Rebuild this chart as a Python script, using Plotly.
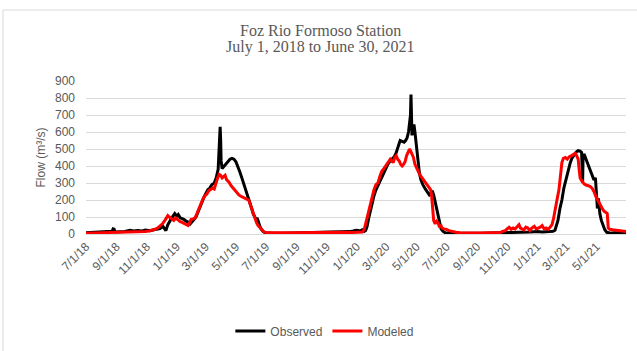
import pandas as pd
import plotly.graph_objects as go

# Values (day offsets counted from 2018-07-01)
start_date = "2018-07-01"

obs_day = [0, 10, 18, 30, 39, 50, 53, 55, 57, 59, 70, 79, 89, 97, 105, 113, 120, 130, 140, 150,
           156, 162, 166, 170, 174, 180, 184, 187, 191, 195, 199, 203, 207, 211, 215, 219, 223,
           227, 231, 235, 239, 243, 247, 251, 255, 260, 264, 268, 270, 272, 273, 274, 276, 280,
           284, 288, 292, 296, 300, 304, 308, 312, 316, 320, 324, 328, 333, 336, 339, 342, 345,
           347, 349, 352, 355, 359, 363, 370, 380, 400, 420, 440, 460, 480, 500, 515, 525, 535,
           542, 548, 552, 556, 560, 564, 567, 570, 573, 576, 580, 584, 588, 592, 596, 600, 604,
           608, 612, 617, 621, 625, 628, 631, 634, 637, 641, 645, 648, 651, 654, 656, 658, 659,
           660, 661, 663, 665, 667, 669, 671, 673, 676, 679, 683, 688, 692, 696, 699, 702, 705,
           708, 711, 714, 717, 720, 724, 728, 740, 760, 780, 800, 820, 840, 860, 880, 900, 915,
           925, 935, 941, 947, 951, 954, 957, 961, 965, 969, 974, 978, 982, 986, 990, 994, 998,
           1002, 1005, 1007, 1008, 1010, 1014, 1018, 1022, 1026, 1030, 1033, 1035, 1037, 1039,
           1042, 1045, 1048, 1052, 1056, 1060, 1064, 1070, 1080, 1095]
obs_val = [8, 9, 10, 11, 12, 14, 16, 30, 28, 12, 13, 15, 22, 18, 20, 17, 24, 19, 26, 32,
           45, 20, 55, 80, 95, 120, 105, 115, 95, 90, 85, 75, 70, 58, 75, 85, 100,
           125, 160, 185, 215, 240, 260, 270, 290, 300, 330, 380, 520, 630, 560, 430, 385, 400,
           415, 430, 440, 445, 440, 425, 400, 365, 330, 295, 260, 225, 190, 150, 120, 100, 85,
           95, 70, 50, 30, 15, 8, 6, 5, 5, 6, 5, 7, 8, 8, 9, 12, 14,
           18, 22, 20, 18, 25, 15, 20, 45, 90, 130, 180, 225, 260, 285, 320, 345, 365,
           390, 410, 430, 440, 455, 470, 495, 520, 550, 545, 540, 550, 565, 600, 640, 700, 820,
           700, 580, 620, 645, 600, 540, 470, 410, 360, 320, 290, 265, 245, 230, 240, 255, 230,
           190, 140, 90, 55, 30, 15, 8, 5, 4, 5, 5, 6, 6, 8, 10, 12, 15,
           12, 14, 12, 16, 22, 45, 80, 150, 200, 270, 330, 380, 420, 450, 470, 482, 490,
           488, 480, 300, 460, 470, 440, 410, 376, 340, 318, 330, 260, 150, 210,
           120, 80, 50, 25, 10, 6, 5, 7, 8, 7]

mod_day = [0, 15, 30, 50, 70, 90, 105, 115, 120, 128, 135, 140, 145, 150, 155, 160, 164, 166,
           169, 172, 175, 178, 182, 185, 188, 191, 195, 199, 203, 207, 210, 213, 217, 221, 225,
           229, 233, 237, 241, 245, 249, 253, 257, 260, 264, 267, 270, 273, 276, 279, 282, 285,
           290, 294, 298, 302, 306, 310, 314, 318, 322, 326, 330, 334, 337, 340, 343, 346, 349,
           353, 357, 361, 366, 380, 400, 420, 440, 460, 480, 500, 520, 540, 556, 560, 564, 567,
           570, 573, 576, 580, 584, 588, 592, 596, 600, 604, 608, 612, 617, 620, 623, 626, 629,
           632, 635, 638, 641, 644, 647, 650, 653, 656, 658, 661, 664, 667, 671, 675, 679, 684,
           688, 692, 696, 699, 701, 703, 705, 708, 711, 714, 717, 719, 722, 726, 730, 736, 742,
           750, 758, 780, 800, 820, 840, 845, 850, 854, 858, 862, 866, 870, 874, 878, 881, 884,
           888, 892, 896, 900, 904, 909, 913, 917, 921, 925, 929, 933, 937, 941, 945, 948, 951,
           955, 959, 962, 965, 968, 972, 976, 980, 984, 988, 992, 995, 998, 1000, 1002, 1006,
           1010, 1014, 1018, 1022, 1026, 1030, 1034, 1038, 1042, 1046, 1050, 1054, 1057, 1059,
           1062, 1068, 1075, 1082, 1088, 1095]
mod_val = [5, 6, 7, 8, 9, 10, 12, 14, 15, 18, 22, 28, 35, 45, 60, 80, 100, 108,
           100, 95, 85, 80, 95, 88, 78, 72, 68, 62, 55, 50, 65, 85, 88, 95, 120,
           150, 180, 205, 225, 235, 255, 265, 270, 265, 310, 330, 350, 345, 330, 335, 345, 320,
           305, 285, 270, 255, 240, 230, 222, 215, 210, 205, 200, 165, 130, 105, 80, 65, 50,
           35, 22, 12, 8, 6, 7, 8, 9, 10, 10, 9, 10, 9, 8, 12, 25, 60,
           100, 140, 160, 220, 260, 290, 300, 340, 370, 385, 400, 420, 440, 430, 420, 450, 460,
           440, 430, 410, 400, 410, 425, 460, 480, 500, 490, 470, 450, 410, 380, 360, 340, 320,
           305, 290, 275, 260, 220, 120, 80, 60, 75, 65, 40, 55, 35, 30, 28, 20, 14,
           10, 8, 6, 6, 7, 8, 15, 20, 30, 40, 28, 35, 30, 45, 55, 35, 30,
           25, 40, 35, 20, 35, 45, 30, 35, 40, 50, 30, 35, 28, 40, 55, 90, 130,
           200, 260, 350, 420, 445, 450, 440, 455, 460, 470, 475, 460, 440, 380, 330, 310,
           295, 288, 285, 280, 270, 250, 220, 195, 180, 155, 135, 125, 120, 35,
           28, 25, 22, 20, 18, 15]

tick_dates = ["2018-07-01", "2018-09-01", "2018-11-01", "2019-01-01", "2019-03-01", "2019-05-01",
              "2019-07-01", "2019-09-01", "2019-11-01", "2020-01-01", "2020-03-01", "2020-05-01",
              "2020-07-01", "2020-09-01", "2020-11-01", "2021-01-01", "2021-03-01", "2021-05-01"]
tick_text = ["7/1/18", "9/1/18", "11/1/18", "1/1/19", "3/1/19", "5/1/19",
             "7/1/19", "9/1/19", "11/1/19", "1/1/20", "3/1/20", "5/1/20",
             "7/1/20", "9/1/20", "11/1/20", "1/1/21", "3/1/21", "5/1/21"]
y_ticks = [0, 100, 200, 300, 400, 500, 600, 700, 800, 900]
title_lines = ["Foz Rio Formoso Station", "July 1, 2018 to June 30, 2021"]

t0 = pd.Timestamp(start_date)
obs_x = [t0 + pd.Timedelta(days=d) for d in obs_day]
mod_x = [t0 + pd.Timedelta(days=d) for d in mod_day]

GRID = "#d9d9d9"
TXT = "#595959"

fig = go.Figure()
fig.add_trace(go.Scatter(x=obs_x, y=obs_val, mode="lines", name="Observed",
                         line=dict(color="#000000", width=3)))
fig.add_trace(go.Scatter(x=mod_x, y=mod_val, mode="lines", name="Modeled",
                         line=dict(color="#ff0000", width=3)))

fig.update_layout(
    width=637, height=351,
    margin=dict(l=86, r=11, t=81, b=117),
    paper_bgcolor="white", plot_bgcolor="white",
    showlegend=True,
    legend=dict(orientation="h", x=0.51, xref="container", xanchor="center",
                y=1 - 331 / 351, yref="container", yanchor="middle",
                font=dict(family="Liberation Sans", size=12, color=TXT),
                itemwidth=30, tracegroupgap=0),
    font=dict(family="Liberation Sans", color=TXT),
)
# two-line title placed as text annotations (tighter line spacing than plotly's title)
for i, (line, ypix) in enumerate(zip(title_lines, [30, 47])):
    fig.add_annotation(text=line, xref="paper", yref="paper",
                       x=(320 - 86) / 540, y=(234 - ypix) / 153,
                       xanchor="center", yanchor="middle", showarrow=False,
                       font=dict(family="Liberation Serif", size=16, color=TXT))

fig.update_xaxes(range=["2018-07-01", "2021-06-30"], tickvals=tick_dates, ticktext=tick_text,
                 tickangle=-45, showgrid=False, showline=True, linecolor=GRID, linewidth=1,
                 ticks="", tickfont=dict(family="Liberation Sans", size=12, color=TXT))
fig.update_yaxes(range=[0, 900], tickvals=y_ticks, showgrid=True, gridcolor=GRID, gridwidth=1,
                 zeroline=False, ticks="", showline=False, ticklabelstandoff=10,
                 tickfont=dict(family="Liberation Sans", size=12, color=TXT),
                 title=dict(text="Flow (m³/s)", standoff=6,
                            font=dict(family="Liberation Sans", size=12, color=TXT)))

# light outer frame (top and left edges)
fig.add_shape(type="line", xref="paper", yref="paper",
              x0=(3 - 86) / 540, x1=(637 - 86) / 540, y0=(234 - 10) / 153, y1=(234 - 10) / 153,
              line=dict(color=GRID, width=1))
fig.add_shape(type="line", xref="paper", yref="paper",
              x0=(3 - 86) / 540, x1=(3 - 86) / 540, y0=(234 - 10) / 153, y1=(234 - 351) / 153,
              line=dict(color=GRID, width=1))

fig.write_html("out.html", config={"displayModeBar": False},
               post_script="document.body.style.margin='0';document.body.style.overflow='hidden';")
